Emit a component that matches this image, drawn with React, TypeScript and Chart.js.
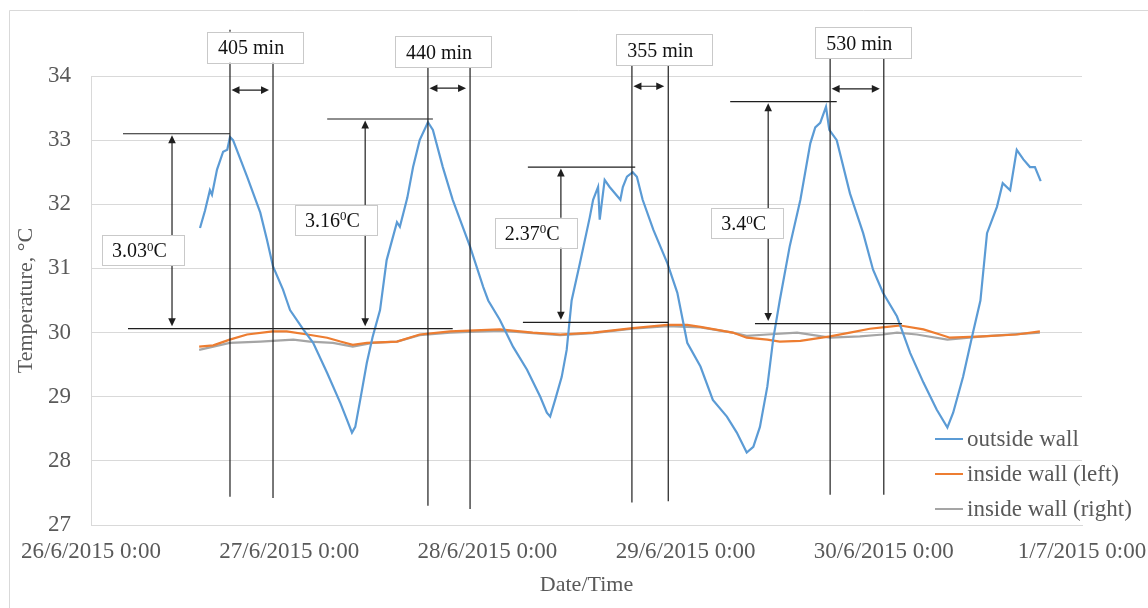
import React, { useEffect, useRef } from "react";
import { Chart, registerables } from "chart.js";

Chart.register(...registerables);

const FONT = "'Liberation Serif', 'Times New Roman', serif";

// ---------- axis ----------
const xTickLabels = ["26/6/2015 0:00", "27/6/2015 0:00", "28/6/2015 0:00", "29/6/2015 0:00", "30/6/2015 0:00", "1/7/2015 0:00"];
const xTitle = "Date/Time";
const yTitle = "Temperature, °C";

// ---------- series (x = hours since 26/6/2015 0:00, y = °C) ----------
const seriesNames = ["outside wall", "inside wall (left)", "inside wall (right)"];
const seriesColors = ["#5B9BD5", "#ED7D31", "#A5A5A5"];

const outsideHours = [13.2, 13.8, 14.4, 14.65, 15.26, 16.0, 16.5, 16.83, 17.2, 18.9, 20.5, 21.3, 22.04, 23.25, 23.7, 24.1, 25.7, 26.9, 28.6, 30.2, 31.0, 31.6, 32.0, 32.6, 33.4, 34.1, 35.0, 35.8, 37.05, 37.4, 38.3, 39.0, 39.8, 40.8, 41.4, 42.6, 43.8, 45.9, 47.5, 48.1, 49.5, 51.1, 52.8, 54.4, 55.2, 55.6, 56.2, 57.0, 57.6, 58.2, 59.2, 60.4, 60.8, 61.4, 61.6, 62.2, 62.8, 64.1, 64.4, 64.9, 65.6, 66.1, 66.8, 68.1, 69.8, 71.0, 72.2, 73.8, 75.3, 77.0, 78.2, 79.4, 80.2, 81.0, 81.9, 82.6, 83.4, 84.6, 85.9, 87.1, 87.7, 88.3, 89.0, 89.4, 90.3, 91.9, 93.5, 94.7, 95.9, 97.6, 99.2, 100.8, 102.4, 103.7, 104.4, 105.6, 106.8, 107.7, 108.5, 109.7, 110.4, 111.3, 112.1, 112.9, 113.7, 114.3, 115.0];
const outsideTemp = [31.63, 31.9, 32.22, 32.15, 32.54, 32.82, 32.85, 33.05, 33.0, 32.43, 31.87, 31.45, 31.03, 30.67, 30.5, 30.35, 30.05, 29.84, 29.37, 28.9, 28.64, 28.44, 28.53, 28.95, 29.53, 29.93, 30.35, 31.13, 31.72, 31.65, 32.1, 32.58, 33.0, 33.28, 33.16, 32.58, 32.07, 31.34, 30.71, 30.5, 30.2, 29.78, 29.42, 29.0, 28.75, 28.69, 28.95, 29.31, 29.73, 30.5, 31.08, 31.8, 32.07, 32.27, 31.76, 32.38, 32.27, 32.07, 32.27, 32.43, 32.5, 32.43, 32.07, 31.6, 31.08, 30.62, 29.84, 29.47, 28.95, 28.69, 28.44, 28.13, 28.22, 28.53, 29.16, 29.89, 30.5, 31.34, 32.07, 32.95, 33.2, 33.27, 33.52, 33.16, 33.0, 32.17, 31.55, 30.98, 30.62, 30.25, 29.68, 29.22, 28.8, 28.52, 28.75, 29.31, 30.0, 30.5, 31.55, 31.96, 32.33, 32.22, 32.85, 32.7, 32.58, 32.58, 32.36];

const insideLeftHours = [13.1, 14.8, 16.8, 18.9, 22.0, 23.7, 26.2, 28.6, 30.2, 31.7, 33.4, 37.05, 39.8, 43.5, 49.5, 53.5, 56.8, 60.8, 65.6, 69.8, 72.2, 73.8, 77.7, 79.4, 81.9, 83.4, 85.9, 89.5, 91.9, 94.3, 96.4, 98.0, 100.8, 102.8, 104.0, 108.0, 112.1, 114.9];
const insideLeftTemp = [29.78, 29.8, 29.89, 29.97, 30.02, 30.02, 29.97, 29.92, 29.86, 29.81, 29.84, 29.86, 29.97, 30.02, 30.05, 30.0, 29.97, 30.0, 30.07, 30.12, 30.12, 30.09, 30.0, 29.92, 29.89, 29.86, 29.87, 29.94, 30.0, 30.06, 30.09, 30.11, 30.05, 29.97, 29.92, 29.94, 29.97, 30.02];

const insideRightHours = [13.1, 16.8, 20.5, 24.5, 26.5, 29.3, 31.7, 34.1, 37.05, 39.8, 43.5, 49.5, 53.5, 56.8, 60.8, 65.6, 69.8, 73.8, 77.7, 79.4, 81.9, 85.5, 89.5, 93.1, 95.9, 97.6, 100.0, 103.7, 108.0, 114.9];
const insideRightTemp = [29.73, 29.84, 29.86, 29.89, 29.86, 29.84, 29.78, 29.84, 29.86, 29.96, 30.0, 30.03, 29.99, 29.96, 29.99, 30.06, 30.1, 30.08, 30.0, 29.95, 29.97, 30.0, 29.92, 29.94, 29.97, 30.0, 29.97, 29.89, 29.94, 30.0];

// ---------- annotations: time lag ----------
const lagLabels = ["405 min", "440 min", "355 min", "530 min"];
const lagStartHours = [16.83, 40.8, 65.5, 89.5];
const lagEndHours = [22.04, 45.9, 69.9, 96.0];
const lagStartTopTemp = [34.72, 34.5, 34.5, 34.5];
const lagStartBottom = [27.44, 27.3, 27.35, 27.47];
const lagEndBottom = [27.42, 27.25, 27.37, 27.47];
const lagArrowTemp = [33.78, 33.81, 33.84, 33.8];
const lagBoxLeftHours = [14.05, 36.8, 63.6, 87.7];
const lagBoxTopTemp = [34.69, 34.62, 34.65, 34.76];

// ---------- annotations: amplitude ----------
const ampLabels = ["3.03", "3.16", "2.37", "3.4"];
const ampArrowHours = [9.81, 33.2, 56.9, 82.0];
const ampTopTemp = [33.1, 33.33, 32.58, 33.6];
const ampTopStartHours = [3.87, 28.6, 52.9, 77.4];
const ampTopEndHours = [16.83, 41.4, 65.9, 90.3];
const ampBaseTemp = [30.06, 30.06, 30.16, 30.14];
const ampBaseStartHours = [4.48, 25.9, 52.3, 80.4];
const ampBaseEndHours = [26.5, 43.8, 69.9, 98.2];
const ampBoxLeftHours = [1.33, 24.7, 48.9, 75.1];
const ampBoxTopTemp = [31.52, 31.99, 31.79, 31.94];

const toPoints = (xs: number[], ys: number[]) => xs.map((x, i) => ({ x, y: ys[i] }));

const backgroundPlugin = {
  id: "bgBorder",
  beforeDraw(chart: any) {
    const { ctx, width, height } = chart;
    ctx.save();
    ctx.fillStyle = "#ffffff";
    ctx.fillRect(0, 0, width, height);
    ctx.strokeStyle = "#D9D9D9";
    ctx.lineWidth = 1;
    ctx.beginPath();
    ctx.moveTo(1.5, height);
    ctx.lineTo(1.5, 2.5);
    ctx.lineTo(width, 2.5);
    ctx.stroke();
    ctx.restore();
  },
};

function arrowHead(ctx: CanvasRenderingContext2D, tx: number, ty: number, dx: number, dy: number) {
  const len = 8;
  const hw = 3.8;
  const bx = tx - dx * len;
  const by = ty - dy * len;
  ctx.beginPath();
  ctx.moveTo(tx, ty);
  ctx.lineTo(bx - dy * hw, by + dx * hw);
  ctx.lineTo(bx + dy * hw, by - dx * hw);
  ctx.closePath();
  ctx.fill();
}

function drawBox(ctx: CanvasRenderingContext2D, x: number, y: number, w: number, h: number) {
  ctx.fillStyle = "#ffffff";
  ctx.fillRect(x, y, w, h);
  ctx.strokeStyle = "#C9C9C9";
  ctx.lineWidth = 1;
  ctx.strokeRect(Math.round(x) + 0.5, Math.round(y) + 0.5, Math.round(w), Math.round(h));
}

const annotationPlugin = {
  id: "annot",
  afterDatasetsDraw(chart: any) {
    const { ctx } = chart;
    const xs = chart.scales.x;
    const ys = chart.scales.y;
    const px = (v: number) => xs.getPixelForValue(v);
    const py = (v: number) => ys.getPixelForValue(v);
    ctx.save();
    const ink = "#1F1F1F";

    // amplitude annotations
    for (let i = 0; i < ampLabels.length; i++) {
      ctx.strokeStyle = ink;
      ctx.fillStyle = ink;
      ctx.lineWidth = 1.2;
      const yt = py(ampTopTemp[i]);
      const yb = py(ampBaseTemp[i]);
      ctx.beginPath();
      ctx.moveTo(px(ampTopStartHours[i]), yt);
      ctx.lineTo(px(ampTopEndHours[i]), yt);
      ctx.moveTo(px(ampBaseStartHours[i]), yb);
      ctx.lineTo(px(ampBaseEndHours[i]), yb);
      const ax = px(ampArrowHours[i]);
      ctx.moveTo(ax, yt + 6);
      ctx.lineTo(ax, yb - 6);
      ctx.stroke();
      arrowHead(ctx, ax, yt + 1.5, 0, -1);
      arrowHead(ctx, ax, yb - 2.5, 0, 1);

      // box with label (value + superscript 0 + C)
      const mainFont = `20px ${FONT}`;
      const supFont = `13px ${FONT}`;
      ctx.font = mainFont;
      const w1 = ctx.measureText(ampLabels[i]).width;
      const w3 = ctx.measureText("C").width;
      ctx.font = supFont;
      const w2 = ctx.measureText("0").width;
      const bx = px(ampBoxLeftHours[i]);
      const by = py(ampBoxTopTemp[i]);
      const bw = w1 + w2 + w3 + 27;
      const bh = 30;
      drawBox(ctx, bx, by, bw, bh);
      ctx.fillStyle = "#111111";
      ctx.textBaseline = "alphabetic";
      ctx.textAlign = "left";
      const base = by + bh / 2 + 7;
      let tx = bx + 10;
      ctx.font = mainFont;
      ctx.fillText(ampLabels[i], tx, base);
      tx += w1;
      ctx.font = supFont;
      ctx.fillText("0", tx, base - 6.5);
      tx += w2;
      ctx.font = mainFont;
      ctx.fillText("C", tx, base);
    }

    // time lag annotations
    for (let i = 0; i < lagLabels.length; i++) {
      ctx.strokeStyle = ink;
      ctx.fillStyle = ink;
      ctx.lineWidth = 1.2;
      const x1 = px(lagStartHours[i]);
      const x2 = px(lagEndHours[i]);
      const topY = py(lagBoxTopTemp[i]);
      ctx.beginPath();
      ctx.moveTo(x1, py(lagStartTopTemp[i]));
      ctx.lineTo(x1, py(lagStartBottom[i]));
      ctx.moveTo(x2, topY + 10);
      ctx.lineTo(x2, py(lagEndBottom[i]));
      const ay = py(lagArrowTemp[i]);
      ctx.moveTo(x1 + 5, ay);
      ctx.lineTo(x2 - 8, ay);
      ctx.stroke();
      arrowHead(ctx, x1 + 1.5, ay, -1, 0);
      arrowHead(ctx, x2 - 4, ay, 1, 0);

      ctx.font = `20px ${FONT}`;
      const tw = ctx.measureText(lagLabels[i]).width;
      const bx = px(lagBoxLeftHours[i]);
      const bw = tw + 30;
      const bh = 31;
      drawBox(ctx, bx, topY, bw, bh);
      ctx.fillStyle = "#111111";
      ctx.textAlign = "left";
      ctx.textBaseline = "alphabetic";
      ctx.fillText(lagLabels[i], bx + 11, topY + bh / 2 + 7);
    }
    ctx.restore();
  },
};

const legendPlugin = {
  id: "customLegend",
  afterDraw(chart: any) {
    const { ctx, chartArea } = chart;
    const rowOffsets = [86, 51, 16];
    ctx.save();
    ctx.font = `23px ${FONT}`;
    ctx.textAlign = "left";
    ctx.textBaseline = "middle";
    for (let i = 0; i < seriesNames.length; i++) {
      const y = chartArea.bottom - rowOffsets[i];
      ctx.strokeStyle = seriesColors[i];
      ctx.lineWidth = 2;
      ctx.beginPath();
      ctx.moveTo(chartArea.right - 147, y);
      ctx.lineTo(chartArea.right - 119, y);
      ctx.stroke();
      ctx.fillStyle = "#595959";
      ctx.fillText(seriesNames[i], chartArea.right - 115, y + 1);
    }
    ctx.restore();
  },
};

export default function App() {
  const canvasRef = useRef<HTMLCanvasElement | null>(null);

  useEffect(() => {
    if (!canvasRef.current) return;
    const series = [
      toPoints(outsideHours, outsideTemp),
      toPoints(insideLeftHours, insideLeftTemp),
      toPoints(insideRightHours, insideRightTemp),
    ];
    const chart = new Chart(canvasRef.current, {
      type: "line",
      data: {
        datasets: series.map((data, i) => ({
          label: seriesNames[i],
          data,
          borderColor: seriesColors[i],
          backgroundColor: seriesColors[i],
          borderWidth: 2.2,
          pointRadius: 0,
          tension: 0,
          fill: false,
        })),
      },
      options: {
        responsive: false,
        animation: false,
        events: [],
        layout: { padding: { left: 5, top: 68, right: 66, bottom: 8 } },
        plugins: {
          legend: { display: false },
          tooltip: { enabled: false },
        },
        scales: {
          x: {
            type: "linear",
            min: 0,
            max: 120,
            ticks: {
              stepSize: 24,
              autoSkip: false,
              maxRotation: 0,
              color: "#595959",
              padding: 13,
              font: { family: FONT, size: 23 },
              callback: (v: any) => xTickLabels[Math.round(Number(v) / 24)] ?? "",
            },
            grid: { display: false, drawTicks: false },
            border: { display: true, color: "#D9D9D9", width: 1 },
            title: {
              display: true,
              text: xTitle,
              color: "#595959",
              font: { family: FONT, size: 22 },
              padding: { top: 6, bottom: 2 },
            },
            afterFit: (s: any) => {
              s.height = 75;
              s.paddingLeft = 0;
              s.paddingRight = 0;
            },
          },
          y: {
            type: "linear",
            min: 27,
            max: 34,
            ticks: {
              stepSize: 1,
              color: "#595959",
              padding: 20,
              font: { family: FONT, size: 23 },
            },
            grid: { color: "#D9D9D9", drawTicks: false, lineWidth: 1 },
            border: { display: true, color: "#D9D9D9", width: 1 },
            title: {
              display: true,
              text: yTitle,
              color: "#595959",
              font: { family: FONT, size: 22 },
              padding: { top: 0, bottom: 0 },
            },
            afterFit: (s: any) => {
              s.width = 78;
              s.paddingTop = 0;
              s.paddingBottom = 0;
            },
          },
        },
      },
      plugins: [backgroundPlugin, annotationPlugin, legendPlugin],
    } as any);
    return () => chart.destroy();
  }, []);

  return (
    <canvas
      ref={canvasRef}
      width={1140}
      height={600}
      style={{ display: "block", position: "fixed", left: 8, top: 8 }}
    />
  );
}
